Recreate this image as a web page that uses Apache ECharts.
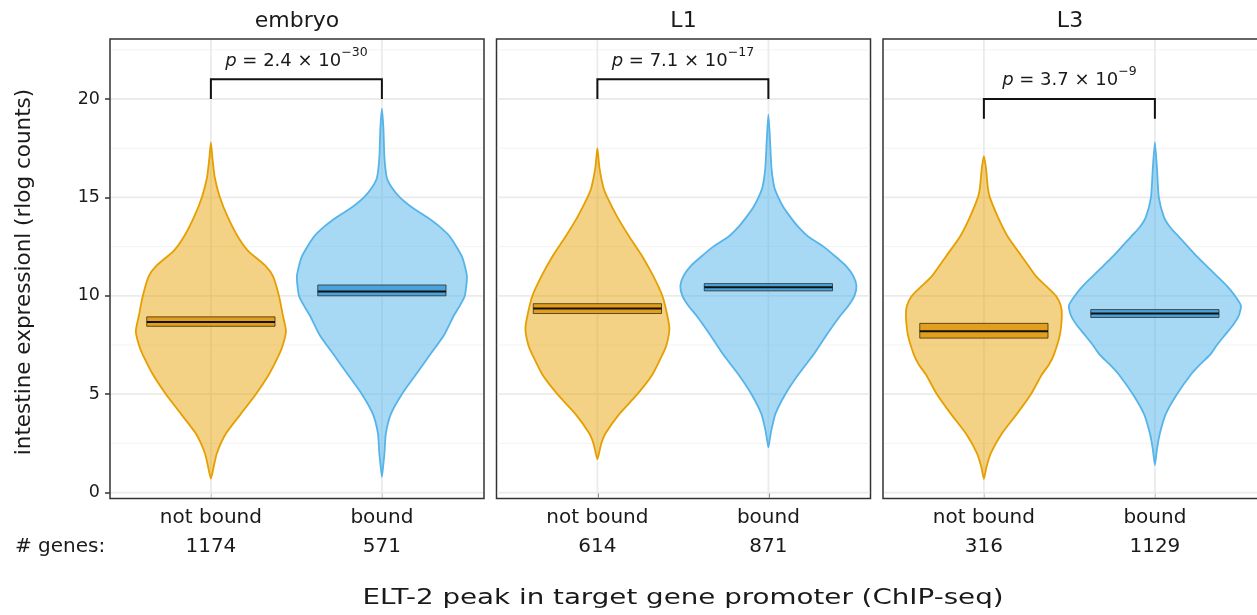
<!DOCTYPE html>
<html>
<head>
<meta charset="utf-8">
<script src="https://cdn.jsdelivr.net/npm/echarts@6/dist/echarts.min.js"></script>
<style>
  html, body { margin: 0; padding: 0; background: #fff; }
  #chart { width: 1257px; height: 615px; }
</style>
</head>
<body>
<div id="chart"></div>
<script>
// stages (facets) and groups (x categories)
const stages = ["embryo", "L1", "L3"];
const groups = ["not bound", "bound"];
const geneCounts = [[1174, 571], [614, 871], [316, 1129]];
const yTicks = [0, 5, 10, 15, 20];
const yMinorTicks = [2.5, 7.5, 12.5, 17.5, 22.5];

// p-value labels: mantissa and exponent
const pMantissa = ["2.4", "7.1", "3.7"];
const pExponent = ["\u221230", "\u221217", "\u22129"];
// bracket [top, foot] in y units
const brackets = [[21, 20], [21, 20], [20, 19]];

// violin outlines: [expression, half width in x units]
const embryoNotBound = [[17.8, 0], [17, 0.009], [16, 0.023], [15, 0.053], [14, 0.099], [13, 0.158], [12.3, 0.216], [11.5, 0.322], [11, 0.363], [10, 0.398], [9, 0.421], [8.2, 0.439], [7.5, 0.421], [7, 0.398], [6, 0.339], [5, 0.263], [4, 0.175], [3, 0.088], [2, 0.035], [1.3, 0.016], [0.7, 0]];
const embryoBound = [[19.5, 0], [18.5, 0.009], [17, 0.015], [16, 0.029], [15.5, 0.058], [15, 0.105], [14.5, 0.175], [14, 0.263], [13.5, 0.339], [13, 0.398], [12, 0.468], [11, 0.497], [10, 0.485], [9.5, 0.456], [9, 0.421], [8, 0.363], [7, 0.281], [6, 0.199], [5, 0.117], [4, 0.053], [3, 0.023], [2, 0.015], [1.4, 0.008], [0.8, 0]];
const l1NotBound = [[17.5, 0], [16.5, 0.012], [15.5, 0.035], [15, 0.058], [14, 0.117], [13, 0.187], [12, 0.263], [11, 0.327], [10, 0.38], [9, 0.409], [8.3, 0.421], [7.5, 0.404], [7, 0.38], [6, 0.322], [5, 0.234], [4, 0.129], [3, 0.047], [2.5, 0.023], [2.1, 0.012], [1.7, 0]];
const l1Bound = [[19.2, 0], [18, 0.009], [16.5, 0.018], [15.5, 0.035], [15, 0.058], [14.5, 0.088], [14, 0.129], [13.5, 0.175], [13, 0.234], [12.5, 0.322], [12, 0.392], [11.5, 0.456], [11, 0.497], [10.5, 0.515], [10, 0.503], [9.5, 0.468], [9, 0.421], [8, 0.339], [7, 0.263], [6, 0.175], [5, 0.099], [4, 0.041], [3.2, 0.018], [2.7, 0.008], [2.3, 0]];
const l3NotBound = [[17.1, 0], [16.5, 0.012], [15.5, 0.023], [15, 0.035], [14, 0.082], [13, 0.14], [12, 0.222], [11, 0.304], [10.5, 0.363], [10, 0.421], [9.5, 0.45], [9, 0.456], [8, 0.444], [7, 0.409], [6.5, 0.38], [6, 0.339], [5, 0.275], [4, 0.193], [3, 0.105], [2, 0.041], [1.3, 0.015], [0.7, 0]];
const l3Bound = [[17.8, 0], [16.5, 0.012], [15, 0.023], [14, 0.053], [13.5, 0.088], [13, 0.14], [12.5, 0.193], [12, 0.246], [11.5, 0.304], [11, 0.363], [10.5, 0.421], [10, 0.468], [9.5, 0.503], [9, 0.491], [8.5, 0.456], [8, 0.409], [7.5, 0.363], [7, 0.322], [6.5, 0.263], [6, 0.211], [5, 0.129], [4, 0.064], [3, 0.029], [2.2, 0.012], [1.4, 0]];
const violins = [[embryoNotBound, embryoBound], [l1NotBound, l1Bound], [l3NotBound, l3Bound]];

// crossbars: [low, mid, high]
const embryoBars = [[8.45, 8.67, 8.93], [10.0, 10.22, 10.55]];
const l1Bars = [[9.1, 9.35, 9.6], [10.25, 10.43, 10.62]];
const l3Bars = [[7.85, 8.2, 8.6], [8.9, 9.1, 9.3]];
const crossbars = [embryoBars, l1Bars, l3Bars];

const FONT = "DejaVu Sans";
const INK = "#1a1a1a";
const fills = ["rgba(230,159,0,0.48)", "rgba(86,180,233,0.52)"];
const strokes = ["#E69F00", "#56B4E9"];
const barFills = ["rgba(222,150,10,0.85)", "rgba(50,150,215,0.8)"];

const panelLeft = [110, 496.5, 883];
const panelWidth = [374, 374, 376];
const pxPerUnit = 171;
const xMin = 0.41;

const chart = echarts.init(document.getElementById("chart"), null, { renderer: "canvas" });

const grids = [], xAxes = [], yAxes = [], series = [];

stages.forEach((stage, p) => {
  grids.push({
    left: panelLeft[p], top: 39, width: panelWidth[p], height: 459.5,
    show: true, borderColor: "#333", borderWidth: 1.5, backgroundColor: "transparent",
    containLabel: false, outerBoundsMode: "none",
  });
  xAxes.push({
    type: "value", gridIndex: p, min: xMin, max: xMin + panelWidth[p] / pxPerUnit,
    axisLine: { show: false },
    axisTick: { show: true, customValues: [1, 2], length: 5, lineStyle: { color: "#333", width: 1.5 } },
    axisLabel: {
      customValues: [1, 2], margin: 5, fontFamily: FONT, fontSize: 20, color: INK, lineHeight: 29,
      formatter: (v) => groups[Math.round(v) - 1] + "\n" + geneCounts[p][Math.round(v) - 1],
    },
    splitLine: { show: false },
  });
  yAxes.push({
    type: "value", gridIndex: p, min: -0.3, max: 23.05,
    axisLine: { show: false },
    axisTick: { show: p === 0, customValues: yTicks, length: 5, lineStyle: { color: "#333", width: 1.5 } },
    axisLabel: { show: p === 0, customValues: yTicks, margin: 10, fontFamily: FONT, fontSize: 17.5, color: INK },
    splitLine: { show: false },
  });

  // background grid lines
  const lines = [
    ...yMinorTicks.map((v) => ({ dir: "y", v, major: false })),
    ...yTicks.map((v) => ({ dir: "y", v, major: true })),
    { dir: "x", v: 1, major: true },
    { dir: "x", v: 2, major: true },
  ];
  series.push({
    type: "custom", xAxisIndex: p, yAxisIndex: p, silent: true, z: 1,
    data: lines.map((l) => [l.v]),
    renderItem(params, api) {
      const l = lines[params.dataIndex];
      const cs = params.coordSys;
      const style = { stroke: l.major ? "#ebebeb" : "#f3f3f3", lineWidth: l.major ? 1.8 : 1 };
      if (l.dir === "y") {
        const y = api.coord([1, l.v])[1];
        return { type: "line", shape: { x1: cs.x + 1, y1: y, x2: cs.x + cs.width - 1, y2: y }, style };
      }
      const x = api.coord([l.v, 0])[0];
      return { type: "line", shape: { x1: x, y1: cs.y + 1, x2: x, y2: cs.y + cs.height - 1 }, style };
    },
  });

  // violins
  series.push({
    type: "custom", xAxisIndex: p, yAxisIndex: p, silent: true, z: 2,
    data: [[1], [2]],
    renderItem(params, api) {
      const g = params.dataIndex;
      const cx = g + 1;
      const outline = violins[p][g];
      const right = outline.map(([v, hw]) => api.coord([cx + hw, v]));
      const left = outline.slice(1, -1).reverse().map(([v, hw]) => api.coord([cx - hw, v]));
      return {
        type: "polygon",
        shape: { points: right.concat(left), smooth: 0.2 },
        style: { fill: fills[g], stroke: strokes[g], lineWidth: 1.8, lineJoin: "round" },
      };
    },
  });

  // crossbars (mean and interval)
  series.push({
    type: "custom", xAxisIndex: p, yAxisIndex: p, silent: true, z: 3,
    data: [[1], [2]],
    renderItem(params, api) {
      const g = params.dataIndex;
      const cx = g + 1;
      const [lo, mid, hi] = crossbars[p][g];
      const a = api.coord([cx - 0.375, hi]);
      const b = api.coord([cx + 0.375, lo]);
      const m = api.coord([cx - 0.375, mid]);
      const n = api.coord([cx + 0.375, mid]);
      return {
        type: "group",
        children: [
          { type: "rect", shape: { x: a[0], y: a[1], width: b[0] - a[0], height: b[1] - a[1] },
            style: { fill: barFills[g], stroke: "rgba(40,30,10,0.7)", lineWidth: 1 } },
          { type: "line", shape: { x1: m[0], y1: m[1], x2: n[0], y2: n[1] },
            style: { stroke: "#111", lineWidth: 2 } },
        ],
      };
    },
  });

  // significance bracket and p value
  series.push({
    type: "custom", xAxisIndex: p, yAxisIndex: p, silent: true, z: 4,
    data: [[1.5]],
    renderItem(params, api) {
      const [top, foot] = brackets[p];
      const pts = [api.coord([1, foot]), api.coord([1, top]), api.coord([2, top]), api.coord([2, foot])];
      const t = api.coord([1.5, top + 0.93]);
      return {
        type: "group",
        children: [
          { type: "polyline", shape: { points: pts }, style: { stroke: "#111", lineWidth: 2, fill: null } },
          {
            type: "text", x: t[0], y: t[1],
            style: {
              text: "{i|p}{b| = " + pMantissa[p] + " \u00d7 10}{s|" + pExponent[p] + "}",
              align: "center", verticalAlign: "middle",
              rich: {
                i: { fontFamily: FONT, fontSize: 18, fontStyle: "italic", fill: INK, lineHeight: 30, verticalAlign: "middle" },
                b: { fontFamily: FONT, fontSize: 18, fill: INK, lineHeight: 30, verticalAlign: "middle" },
                s: { fontFamily: FONT, fontSize: 12.5, fill: INK, lineHeight: 18, verticalAlign: "top" },
              },
            },
          },
        ],
      };
    },
  });
});

const graphics = stages.map((stage, p) => ({
  type: "text", x: panelLeft[p] + 374 / 2, y: 21.5,
  style: { text: stage, font: "22px 'DejaVu Sans'", fill: INK, align: "center", verticalAlign: "middle" },
}));
graphics.push(
  { type: "text", x: 15, y: 547, style: { text: "# genes:", font: "20px 'DejaVu Sans'", fill: INK, align: "left", verticalAlign: "middle" } },
  { type: "text", x: 683, y: 598, scaleX: 1.26, style: { text: "ELT-2 peak in target gene promoter (ChIP-seq)", font: "22px 'DejaVu Sans'", fill: INK, align: "center", verticalAlign: "middle" } },
  { type: "text", x: 24, y: 272, rotation: Math.PI / 2, style: { text: "intestine expressionl (rlog counts)", font: "21.5px 'DejaVu Sans'", fill: INK, align: "center", verticalAlign: "middle" } }
);

chart.setOption({
  animation: false,
  backgroundColor: "#fff",
  grid: grids,
  xAxis: xAxes,
  yAxis: yAxes,
  series,
  graphic: graphics,
});
</script>
</body>
</html>
